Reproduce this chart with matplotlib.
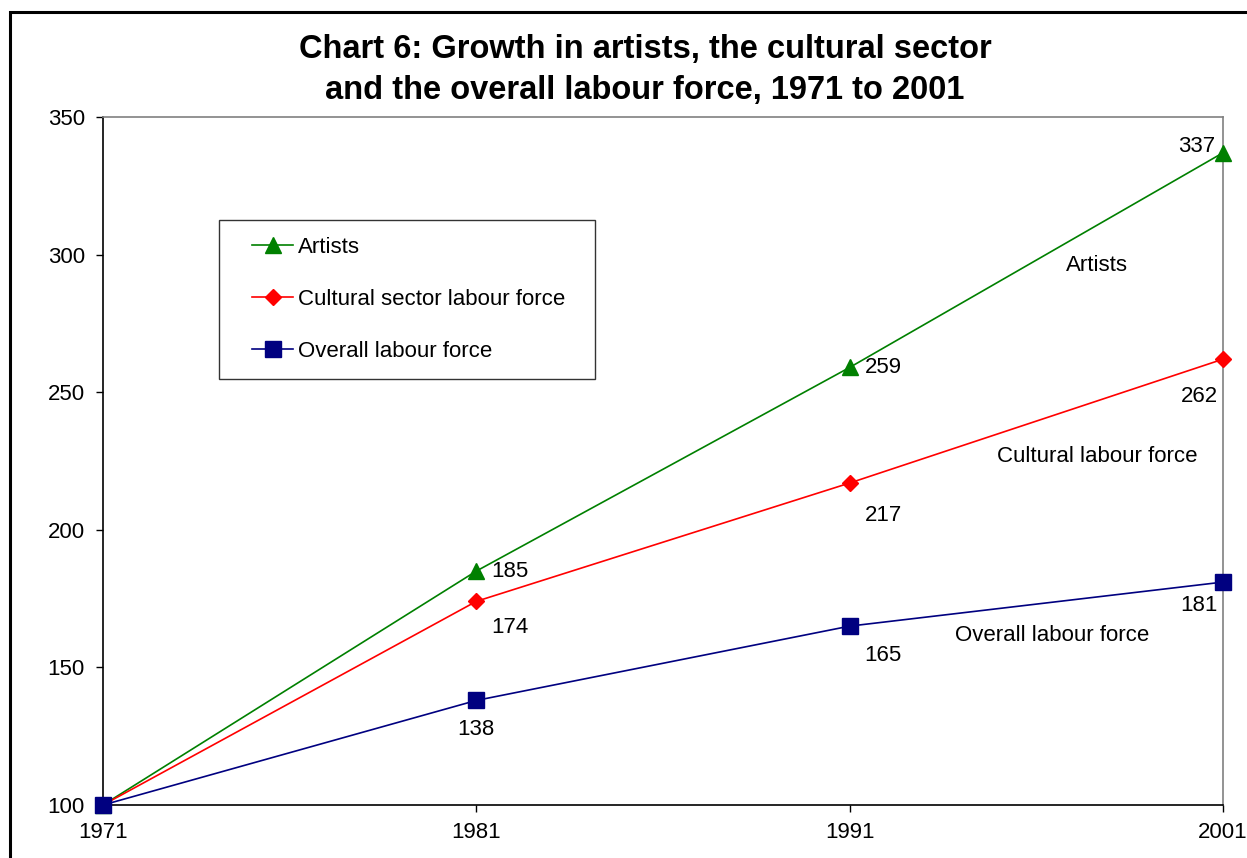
import matplotlib.pyplot as plt
from matplotlib.patches import Rectangle
from matplotlib.legend_handler import HandlerLine2D
from matplotlib.lines import Line2D

plt.rcParams['font.family'] = ['Liberation Sans', 'DejaVu Sans']

# Data (index, 1971 = 100)
years = ['1971', '1981', '1991', '2001']
artists = [100, 185, 259, 337]
cultural = [100, 174, 217, 262]
overall = [100, 138, 165, 181]

# label offsets in pixels (dx, dy, ha) for each point after 1971
artists_offsets = [(15, 0, 'left'), (15, 0, 'left'), (-8, 6, 'right')]
cultural_offsets = [(15, -26, 'left'), (15, -32, 'left'), (-5, -37, 'right')]
overall_offsets = [(0, -29, 'center'), (15, -29, 'left'), (-5, -23, 'right')]

FS = 16

fig = plt.figure(figsize=(12.47, 8.58), dpi=100)
ax = fig.add_axes([103 / 1247, 1 - 805 / 858, 1120 / 1247, 688 / 858])

# Outer frame (cut off on right and bottom like the original)
fig.patches.append(Rectangle((10 / 1247, -0.1), 1.2, 1 - 12 / 858 + 0.1,
                             transform=fig.transFigure, fill=False,
                             edgecolor='black', linewidth=2.2))

x = range(len(years))
ax.plot(x, artists, color='#008000', marker='^', markersize=12, linewidth=1.2,
        label='Artists', zorder=3)
ax.plot(x, cultural, color='#FF0000', marker='D', markersize=8, linewidth=1.2,
        label='Cultural sector labour force', zorder=3)
ax.plot(x, overall, color='#000080', marker='s', markersize=11, linewidth=1.2,
        label='Overall labour force', zorder=4)

def label_points(values, offsets):
    for i, (dx, dy, ha) in enumerate(offsets, start=1):
        ax.annotate(str(values[i]), (i, values[i]), xytext=(dx, dy),
                    textcoords='offset pixels', ha=ha, va='center', fontsize=FS)

label_points(artists, artists_offsets)
label_points(cultural, cultural_offsets)
label_points(overall, overall_offsets)

# Line name labels
ax.text(2.662, 296, 'Artists', ha='center', va='center', fontsize=FS)
ax.text(2.663, 226.5, 'Cultural labour force', ha='center', va='center', fontsize=FS)
ax.text(2.542, 161.5, 'Overall labour force', ha='center', va='center', fontsize=FS)

ax.set_xlim(0, 3)
ax.set_ylim(100, 350)
ax.set_xticks(list(x))
ax.set_xticklabels(years)
ax.set_yticks([100, 150, 200, 250, 300, 350])
ax.tick_params(axis='both', direction='out', length=5, width=1, labelsize=FS)
ax.tick_params(axis='y', pad=8)
ax.tick_params(axis='x', pad=7)

for side in ['top', 'right']:
    ax.spines[side].set_color('#808080')
for side in ['left', 'bottom']:
    ax.spines[side].set_color('black')
for s in ax.spines.values():
    s.set_linewidth(1.2)
for line in ax.get_lines():
    line.set_clip_on(False)

leg = ax.legend(loc='upper left', bbox_to_anchor=((219 - 103) / 1120, (805 - 377) / 688,
                                                   376 / 1120, 157 / 688),
                mode='expand', fontsize=FS, frameon=True, fancybox=False,
                borderpad=0.75, labelspacing=1.4, handlelength=2.6,
                handletextpad=0.22, borderaxespad=0,
                handler_map={Line2D: HandlerLine2D(xpad=0.72)})
leg.get_frame().set_edgecolor('black')
leg.get_frame().set_linewidth(1.0)

fig.text(645 / 1247, 1 - 70 / 858,
         'Chart 6: Growth in artists, the cultural sector\nand the overall labour force, 1971 to 2001',
         ha='center', va='center', fontsize=23.5, fontweight='bold', linespacing=1.39)

fig.savefig('out.png', dpi=100)
